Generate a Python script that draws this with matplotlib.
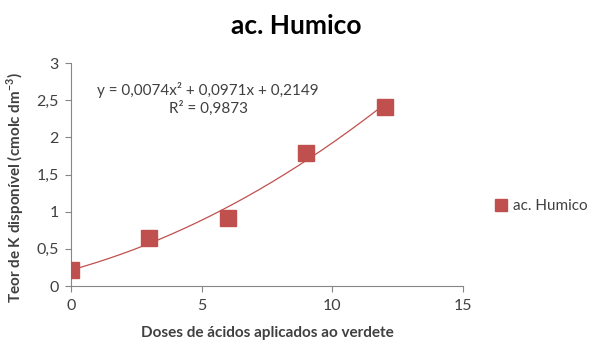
import numpy as np
import matplotlib.pyplot as plt
from matplotlib.ticker import FuncFormatter

plt.rcParams["font.family"] = ["Lato", "DejaVu Sans"]

# data
doses = [0, 3, 6, 9, 12]
teor_k = [0.21, 0.64, 0.92, 1.79, 2.41]
coef = [0.0074, 0.0971, 0.2149]  # quadratic trendline
r2 = 0.9873
series_name = "ac. Humico"

red = "#C0504D"
gray = "#868686"
txt = "#404040"

fig = plt.figure(figsize=(5.92, 3.44), dpi=100)
ax = fig.add_axes([0.12, 0.1686, 0.662, 0.648])

xs = np.linspace(doses[0], doses[-1], 200)
ax.plot(xs, np.polyval(coef, xs), color=red, lw=0.9, zorder=2)
ax.plot(doses, teor_k, ls="none", marker="s", ms=11, color=red,
        label=series_name, zorder=3)

ax.set_xlim(0, 15)
ax.set_ylim(0, 3)
ax.set_xticks([0, 5, 10, 15])
ax.set_yticks(np.arange(0, 3.01, 0.5))
ax.yaxis.set_major_formatter(FuncFormatter(lambda v, p: f"{v:g}".replace(".", ",")))
ax.tick_params(direction="out", length=4, color=gray, labelcolor=txt, labelsize=11.5, pad=5)
for s in ["top", "right"]:
    ax.spines[s].set_visible(False)
for s in ["left", "bottom"]:
    ax.spines[s].set_color(gray)
ax.patch.set_alpha(0)

ax.set_xlabel("Doses de ácidos aplicados ao verdete", fontsize=11,
              fontweight="bold", color=txt, labelpad=10)
ax.set_ylabel("Teor de K disponível (cmolc dm$^{\\mathregular{-3}}$)", fontsize=11,
              fontweight="bold", color=txt)
ax.yaxis.set_label_coords(-0.115, 0.44)

eq = (f"y = {coef[0]}x² + {coef[1]}x + {coef[2]}".replace(".", ",")
      + "\n" + f"R² = {r2}".replace(".", ","))
ax.text(5.25, 2.52, eq, ha="center", va="center", fontsize=11, color=txt,
        linespacing=1.2)

fig.suptitle(series_name, x=0.5, y=0.96, fontsize=19, fontweight="bold", color="black")

fig.legend(loc="center left", bbox_to_anchor=(0.835, 0.40), frameon=False,
           fontsize=11, handletextpad=0.3, handlelength=0.9, borderpad=0,
           borderaxespad=0, markerscale=0.75, labelcolor=txt)

fig.savefig("out.png", dpi=100)
